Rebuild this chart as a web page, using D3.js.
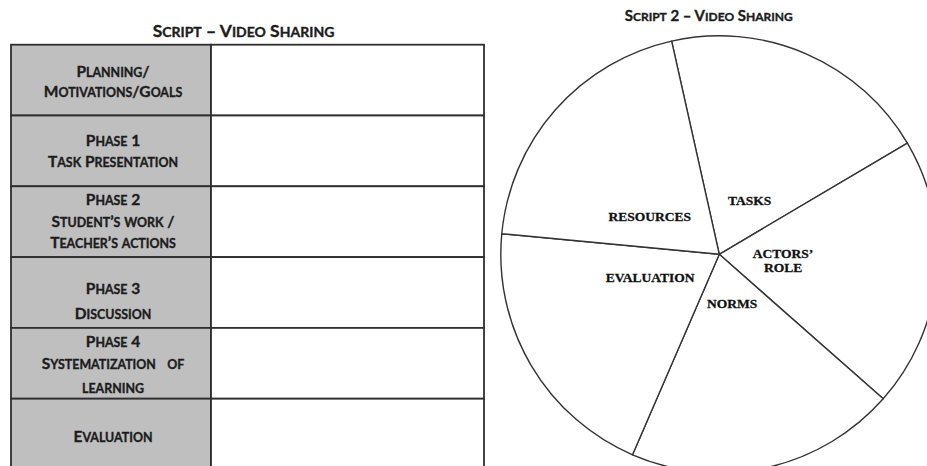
<!DOCTYPE html>
<html><head><meta charset="utf-8">
<script src="https://cdn.jsdelivr.net/npm/d3@7"></script>
<style>html,body{margin:0;padding:0;background:#fff;overflow:hidden}</style>
</head><body><svg id="c" width="927" height="466"></svg>
<script>
// ---------- data ----------
const tableTitle = "Script – Video Sharing";
const pieTitle = "Script 2 – Video Sharing";
const phases = ["planning", "phase1", "phase2", "phase3", "phase4", "evaluation"];
const phaseLabelLines = [
  ["Planning/", "Motivations/Goals"],
  ["Phase 1", "Task Presentation"],
  ["Phase 2", "Student’s work /", "Teacher’s actions"],
  ["Phase 3", "Discussion"],
  ["Phase 4", "Systematization   of", "learning"],
  ["Evaluation"]
];
const tableColumns = ["label", "content"];
const pieCategories = ["TASKS", "ACTORS’ ROLE", "NORMS", "EVALUATION", "RESOURCES"];
const pieLabelLines = [["TASKS"], ["ACTORS’", "ROLE"], ["NORMS"], ["EVALUATION"], ["RESOURCES"]];
const pieValues = [1, 1, 1, 1, 1];

// ---------- layout ----------
const tableLeft = 11, tableSplit = 211, tableRight = 484, tableTop = 44.7, rowH = 70.8;
const lineBaselines = [[32, 52.6], [30.5, 51.2], [18.7, 40.4, 62], [37.2, 62.2], [19.4, 41.1, 64.8], [43]];
const pieCx = 719.3, pieCy = 254.3, pieR = 218.5;
const pieStartDeg = -12.6;
const labelRadius = [62, 64, 51, 73, 79];
const labelShiftDeg = [6, 0, -2, 12, -13];
const SC_RATIO = 0.8;

const svg = d3.select("#c");
const rad = d => d * Math.PI / 180;

// manual small caps: lowercase runs rendered as uppercase at reduced size
function smallCaps(textSel, str, size) {
  const runs = str.match(/([a-z]+|[^a-z]+)/g) || [];
  runs.forEach(r => {
    const lower = /^[a-z]+$/.test(r);
    textSel.append("tspan")
      .style("font-size", (lower ? size * SC_RATIO : size) + "px")
      .text(lower ? r.toUpperCase() : r);
  });
}
function scText(parent, str, xPos, yPos, size) {
  const t = parent.append("text")
    .attr("x", xPos).attr("y", yPos)
    .attr("text-anchor", "middle")
    .style("white-space", "pre")
    .style("font-family", "Lato, 'Open Sans', sans-serif")
    .style("font-weight", "bold")
    .attr("fill", "#1c1c1c")
    .attr("stroke", "#1c1c1c").attr("stroke-width", 0.35);
  smallCaps(t, str, size);
  return t;
}

// ---------- table ----------
const y = d3.scaleBand().domain(phases).range([tableTop, tableTop + rowH * phases.length]);
const x = d3.scaleOrdinal().domain(tableColumns).range([tableLeft, tableSplit]);
const colW = d3.scaleOrdinal().domain(tableColumns).range([tableSplit - tableLeft, tableRight - tableSplit]);

scText(svg, tableTitle, 243.5, 37.3, 17.5);

const rows = svg.append("g").selectAll("g").data(phases).join("g");
tableColumns.forEach(col => {
  rows.append("rect")
    .attr("x", x(col)).attr("y", d => y(d))
    .attr("width", colW(col)).attr("height", y.bandwidth())
    .attr("fill", col === "label" ? "#bfbfbf" : "#ffffff")
    .attr("stroke", "#2e2e2e").attr("stroke-width", 1.8);
});
rows.each(function (d, i) {
  const g = d3.select(this);
  phaseLabelLines[i].forEach((line, j) => {
    scText(g, line, x("label") + colW("label") / 2 + 2, y(d) + lineBaselines[i][j], 15.5);
  });
});

// ---------- pie ----------
scText(svg, pieTitle, 708.8, 20.7, 15);

const pie = d3.pie().value(d => d).sort(null)
  .startAngle(rad(pieStartDeg)).endAngle(rad(pieStartDeg) + 2 * Math.PI);
const arcs = pie(pieValues);
const arc = d3.arc().innerRadius(0).outerRadius(pieR);
const gp = svg.append("g").attr("transform", `translate(${pieCx},${pieCy})`);
gp.selectAll("path").data(arcs).join("path")
  .attr("d", arc).attr("fill", "#fff")
  .attr("stroke", "#333").attr("stroke-width", 1.4).attr("stroke-linejoin", "round");

arcs.forEach((a, i) => {
  const mid = (a.startAngle + a.endAngle) / 2 + rad(labelShiftDeg[i]);
  const c = d3.arc().innerRadius(labelRadius[i]).outerRadius(labelRadius[i])
    .startAngle(mid).endAngle(mid).centroid();
  const lines = pieLabelLines[i];
  const lh = 14.6;
  const t = gp.append("text")
    .attr("text-anchor", "middle")
    .style("font-family", "'Liberation Serif', 'Times New Roman', serif")
    .style("font-weight", "bold").style("font-size", "13.5px")
    .attr("fill", "#111").attr("stroke", "#111").attr("stroke-width", 0.3);
  lines.forEach((ln, j) => {
    t.append("tspan").attr("x", c[0])
      .attr("y", c[1] + (j - (lines.length - 1) / 2) * lh)
      .attr("dy", "0.35em").text(ln);
  });
});
</script></body></html>
